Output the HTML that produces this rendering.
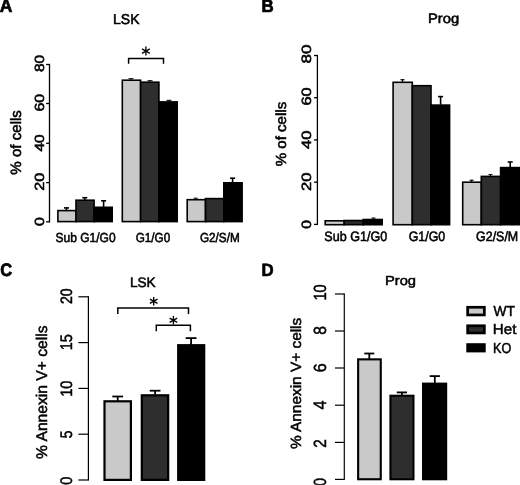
<!DOCTYPE html>
<html><head><meta charset="utf-8"><title>Figure</title>
<style>
html,body{margin:0;padding:0;background:#fff;}
body{width:520px;height:485px;overflow:hidden;}
svg{display:block;}
svg text{font-family:"Liberation Sans",sans-serif;fill:#000;text-rendering:geometricPrecision;}
</style></head><body>
<svg width="520" height="485" viewBox="0 0 520 485">
<defs><filter id="soft" x="-6" y="-6" width="532" height="497" filterUnits="userSpaceOnUse"><feGaussianBlur stdDeviation="0.4"/></filter></defs>
<rect x="0" y="0" width="520" height="485" fill="#fff"/>
<g filter="url(#soft)">
<rect x="-5" y="-5" width="530" height="495" fill="#fff"/>
<text transform="translate(-0.19,12.29) scale(0.9424,1)" font-size="18.53" font-weight="bold" fill="#000" stroke="#000" stroke-width="0.7">A</text>
<text transform="translate(113.02,24.14) scale(0.9812,1)" font-size="14.28" fill="#000" stroke="#000" stroke-width="0.55">LSK</text>
<line x1="49.50" y1="63.85" x2="49.50" y2="222.45" stroke="#000" stroke-width="1.3" stroke-linecap="butt"/>
<line x1="46.10" y1="221.80" x2="49.50" y2="221.80" stroke="#000" stroke-width="1.3" stroke-linecap="butt"/>
<line x1="46.10" y1="182.60" x2="49.50" y2="182.60" stroke="#000" stroke-width="1.3" stroke-linecap="butt"/>
<line x1="46.10" y1="143.30" x2="49.50" y2="143.30" stroke="#000" stroke-width="1.3" stroke-linecap="butt"/>
<line x1="46.10" y1="103.50" x2="49.50" y2="103.50" stroke="#000" stroke-width="1.3" stroke-linecap="butt"/>
<line x1="46.10" y1="64.50" x2="49.50" y2="64.50" stroke="#000" stroke-width="1.3" stroke-linecap="butt"/>
<text transform="translate(43.63,72.09) rotate(-90) scale(1.1737,1)" font-size="13.28" stroke="#000" stroke-width="0.55">80</text>
<text transform="translate(43.63,111.52) rotate(-90) scale(1.1971,1)" font-size="13.28" stroke="#000" stroke-width="0.55">60</text>
<text transform="translate(43.63,151.58) rotate(-90) scale(1.1729,1)" font-size="13.28" stroke="#000" stroke-width="0.55">40</text>
<text transform="translate(43.63,190.83) rotate(-90) scale(1.2192,1)" font-size="13.28" stroke="#000" stroke-width="0.55">20</text>
<text transform="translate(43.63,225.96) rotate(-90) scale(1.1910,1)" font-size="13.28" stroke="#000" stroke-width="0.55">0</text>
<text transform="translate(21.14,174.65) rotate(-90) scale(1.0077,1)" font-size="14.98" stroke="#000" stroke-width="0.55">% of cells</text>
<line x1="66.50" y1="207.90" x2="66.50" y2="210.30" stroke="#000" stroke-width="1.6" stroke-linecap="butt"/>
<line x1="64.00" y1="207.90" x2="69.00" y2="207.90" stroke="#000" stroke-width="1.6" stroke-linecap="butt"/>
<line x1="84.80" y1="197.70" x2="84.80" y2="199.90" stroke="#000" stroke-width="1.6" stroke-linecap="butt"/>
<line x1="82.30" y1="197.70" x2="87.30" y2="197.70" stroke="#000" stroke-width="1.6" stroke-linecap="butt"/>
<line x1="103.60" y1="200.80" x2="103.60" y2="207.00" stroke="#000" stroke-width="1.6" stroke-linecap="butt"/>
<line x1="101.10" y1="200.80" x2="106.10" y2="200.80" stroke="#000" stroke-width="1.6" stroke-linecap="butt"/>
<rect x="57.90" y="210.60" width="18.10" height="11.00" fill="#c9c9c9" stroke="#000" stroke-width="1.6"/>
<rect x="76.00" y="200.20" width="18.10" height="21.40" fill="#2d2d2d" stroke="#000" stroke-width="1.6"/>
<rect x="94.10" y="207.30" width="18.10" height="14.30" fill="#000" stroke="#000" stroke-width="1.6"/>
<line x1="131.00" y1="78.70" x2="131.00" y2="80.10" stroke="#000" stroke-width="1.0" stroke-linecap="butt"/>
<line x1="128.50" y1="78.70" x2="133.50" y2="78.70" stroke="#000" stroke-width="1.0" stroke-linecap="butt"/>
<line x1="150.00" y1="80.70" x2="150.00" y2="82.00" stroke="#000" stroke-width="1.0" stroke-linecap="butt"/>
<line x1="147.50" y1="80.70" x2="152.50" y2="80.70" stroke="#000" stroke-width="1.0" stroke-linecap="butt"/>
<line x1="169.00" y1="100.30" x2="169.00" y2="101.60" stroke="#000" stroke-width="1.0" stroke-linecap="butt"/>
<line x1="166.50" y1="100.30" x2="171.50" y2="100.30" stroke="#000" stroke-width="1.0" stroke-linecap="butt"/>
<rect x="122.30" y="80.20" width="18.30" height="141.40" fill="#c9c9c9" stroke="#000" stroke-width="1.6"/>
<rect x="140.60" y="82.20" width="18.30" height="139.40" fill="#2d2d2d" stroke="#000" stroke-width="1.6"/>
<rect x="158.90" y="101.90" width="18.30" height="119.70" fill="#000" stroke="#000" stroke-width="1.6"/>
<line x1="195.70" y1="198.20" x2="195.70" y2="199.40" stroke="#000" stroke-width="1.0" stroke-linecap="butt"/>
<line x1="193.70" y1="198.20" x2="197.70" y2="198.20" stroke="#000" stroke-width="1.0" stroke-linecap="butt"/>
<line x1="232.60" y1="178.20" x2="232.60" y2="182.50" stroke="#000" stroke-width="1.6" stroke-linecap="butt"/>
<line x1="230.10" y1="178.20" x2="235.10" y2="178.20" stroke="#000" stroke-width="1.6" stroke-linecap="butt"/>
<rect x="187.20" y="199.70" width="18.30" height="21.90" fill="#c9c9c9" stroke="#000" stroke-width="1.6"/>
<rect x="205.50" y="198.60" width="18.30" height="23.00" fill="#2d2d2d" stroke="#000" stroke-width="1.6"/>
<rect x="223.80" y="182.80" width="18.30" height="38.80" fill="#000" stroke="#000" stroke-width="1.6"/>
<polyline points="128.60,63.80 128.60,58.40 163.50,58.40 163.50,63.80" fill="none" stroke="#000" stroke-width="1.5" stroke-linejoin="miter"/>
<line x1="145.90" y1="46.60" x2="145.90" y2="55.60" stroke="#000" stroke-width="1.35" stroke-linecap="butt"/>
<line x1="142.00" y1="48.85" x2="149.80" y2="53.35" stroke="#000" stroke-width="1.35" stroke-linecap="butt"/>
<line x1="142.00" y1="53.35" x2="149.80" y2="48.85" stroke="#000" stroke-width="1.35" stroke-linecap="butt"/>
<text transform="translate(55.53,242.24) scale(0.9198,1)" font-size="13.05" fill="#000" stroke="#000" stroke-width="0.55">Sub G1/G0</text>
<text transform="translate(135.69,242.24) scale(0.8971,1)" font-size="13.05" fill="#000" stroke="#000" stroke-width="0.55">G1/G0</text>
<text transform="translate(199.89,242.24) scale(0.8999,1)" font-size="13.05" fill="#000" stroke="#000" stroke-width="0.55">G2/S/M</text>
<text transform="translate(261.41,12.19) scale(0.9484,1)" font-size="17.80" font-weight="bold" fill="#000" stroke="#000" stroke-width="0.7">B</text>
<text transform="translate(427.96,22.54) scale(1.0859,1)" font-size="13.61" fill="#000" stroke="#000" stroke-width="0.55">Prog</text>
<line x1="317.40" y1="54.85" x2="317.40" y2="225.05" stroke="#000" stroke-width="1.3" stroke-linecap="butt"/>
<line x1="314.00" y1="224.40" x2="317.40" y2="224.40" stroke="#000" stroke-width="1.3" stroke-linecap="butt"/>
<line x1="314.00" y1="182.20" x2="317.40" y2="182.20" stroke="#000" stroke-width="1.3" stroke-linecap="butt"/>
<line x1="314.00" y1="139.90" x2="317.40" y2="139.90" stroke="#000" stroke-width="1.3" stroke-linecap="butt"/>
<line x1="314.00" y1="97.70" x2="317.40" y2="97.70" stroke="#000" stroke-width="1.3" stroke-linecap="butt"/>
<line x1="314.00" y1="55.50" x2="317.40" y2="55.50" stroke="#000" stroke-width="1.3" stroke-linecap="butt"/>
<text transform="translate(311.44,63.55) rotate(-90) scale(1.2697,1)" font-size="13.42" stroke="#000" stroke-width="0.55">80</text>
<text transform="translate(311.44,105.55) rotate(-90) scale(1.2280,1)" font-size="13.42" stroke="#000" stroke-width="0.55">60</text>
<text transform="translate(311.44,148.90) rotate(-90) scale(1.2313,1)" font-size="13.42" stroke="#000" stroke-width="0.55">40</text>
<text transform="translate(311.44,190.95) rotate(-90) scale(1.2353,1)" font-size="13.42" stroke="#000" stroke-width="0.55">20</text>
<text transform="translate(311.44,228.75) rotate(-90) scale(1.1627,1)" font-size="13.42" stroke="#000" stroke-width="0.55">0</text>
<text transform="translate(286.44,166.25) rotate(-90) scale(1.0347,1)" font-size="14.57" stroke="#000" stroke-width="0.55">% of cells</text>
<line x1="373.50" y1="218.00" x2="373.50" y2="219.40" stroke="#000" stroke-width="1.0" stroke-linecap="butt"/>
<line x1="371.50" y1="218.00" x2="375.50" y2="218.00" stroke="#000" stroke-width="1.0" stroke-linecap="butt"/>
<rect x="325.20" y="220.80" width="19.00" height="3.90" fill="#c9c9c9" stroke="#000" stroke-width="1.6"/>
<rect x="344.20" y="220.50" width="19.00" height="4.20" fill="#2d2d2d" stroke="#000" stroke-width="1.6"/>
<rect x="363.20" y="219.50" width="19.00" height="5.20" fill="#000" stroke="#000" stroke-width="1.6"/>
<line x1="402.50" y1="79.70" x2="402.50" y2="82.00" stroke="#000" stroke-width="1.2" stroke-linecap="butt"/>
<line x1="400.50" y1="79.70" x2="404.50" y2="79.70" stroke="#000" stroke-width="1.2" stroke-linecap="butt"/>
<line x1="440.60" y1="96.60" x2="440.60" y2="104.80" stroke="#000" stroke-width="1.6" stroke-linecap="butt"/>
<line x1="438.10" y1="96.60" x2="443.10" y2="96.60" stroke="#000" stroke-width="1.6" stroke-linecap="butt"/>
<rect x="393.10" y="82.30" width="19.20" height="142.40" fill="#c9c9c9" stroke="#000" stroke-width="1.6"/>
<rect x="412.30" y="85.70" width="18.70" height="139.00" fill="#2d2d2d" stroke="#000" stroke-width="1.6"/>
<rect x="431.00" y="105.10" width="18.60" height="119.60" fill="#000" stroke="#000" stroke-width="1.6"/>
<line x1="471.60" y1="180.20" x2="471.60" y2="181.90" stroke="#000" stroke-width="1.1" stroke-linecap="butt"/>
<line x1="469.60" y1="180.20" x2="473.60" y2="180.20" stroke="#000" stroke-width="1.1" stroke-linecap="butt"/>
<line x1="490.50" y1="174.60" x2="490.50" y2="176.10" stroke="#000" stroke-width="1.0" stroke-linecap="butt"/>
<line x1="488.50" y1="174.60" x2="492.50" y2="174.60" stroke="#000" stroke-width="1.0" stroke-linecap="butt"/>
<line x1="510.20" y1="162.00" x2="510.20" y2="167.30" stroke="#000" stroke-width="1.6" stroke-linecap="butt"/>
<line x1="507.70" y1="162.00" x2="512.70" y2="162.00" stroke="#000" stroke-width="1.6" stroke-linecap="butt"/>
<rect x="462.70" y="182.20" width="18.60" height="42.50" fill="#c9c9c9" stroke="#000" stroke-width="1.6"/>
<rect x="481.30" y="176.40" width="19.30" height="48.30" fill="#2d2d2d" stroke="#000" stroke-width="1.6"/>
<rect x="500.60" y="167.60" width="24.60" height="57.10" fill="#000" stroke="#000" stroke-width="1.6"/>
<text transform="translate(324.31,241.34) scale(0.9243,1)" font-size="13.60" fill="#000" stroke="#000" stroke-width="0.55">Sub G1/G0</text>
<text transform="translate(408.65,241.34) scale(0.9122,1)" font-size="13.60" fill="#000" stroke="#000" stroke-width="0.55">G1/G0</text>
<text transform="translate(476.05,241.34) scale(0.9153,1)" font-size="13.60" fill="#000" stroke="#000" stroke-width="0.55">G2/S/M</text>
<text transform="translate(0.29,276.19) scale(0.9099,1)" font-size="18.12" font-weight="bold" fill="#000" stroke="#000" stroke-width="0.7">C</text>
<text transform="translate(129.92,286.75) scale(0.9917,1)" font-size="13.76" fill="#000" stroke="#000" stroke-width="0.5">LSK</text>
<line x1="88.40" y1="296.20" x2="88.40" y2="480.60" stroke="#000" stroke-width="1.2" stroke-linecap="butt"/>
<line x1="78.40" y1="480.00" x2="88.40" y2="480.00" stroke="#000" stroke-width="1.2" stroke-linecap="butt"/>
<line x1="78.40" y1="434.20" x2="88.40" y2="434.20" stroke="#000" stroke-width="1.2" stroke-linecap="butt"/>
<line x1="78.40" y1="388.40" x2="88.40" y2="388.40" stroke="#000" stroke-width="1.2" stroke-linecap="butt"/>
<line x1="78.40" y1="342.60" x2="88.40" y2="342.60" stroke="#000" stroke-width="1.2" stroke-linecap="butt"/>
<line x1="78.40" y1="296.80" x2="88.40" y2="296.80" stroke="#000" stroke-width="1.2" stroke-linecap="butt"/>
<text transform="translate(72.25,304.05) rotate(-90) scale(0.8542,1)" font-size="16.49" stroke="#000" stroke-width="0.5">20</text>
<text transform="translate(72.25,350.24) rotate(-90) scale(0.8652,1)" font-size="16.73" stroke="#000" stroke-width="0.5">15</text>
<text transform="translate(72.25,396.86) rotate(-90) scale(0.8938,1)" font-size="16.49" stroke="#000" stroke-width="0.5">10</text>
<text transform="translate(72.25,438.31) rotate(-90) scale(0.8307,1)" font-size="16.73" stroke="#000" stroke-width="0.5">5</text>
<text transform="translate(72.35,484.73) rotate(-90) scale(0.8615,1)" font-size="16.77" stroke="#000" stroke-width="0.5">0</text>
<text transform="translate(46.65,458.90) rotate(-90) scale(1.0128,1)" font-size="15.45" stroke="#000" stroke-width="0.5">% Annexin V+ cells</text>
<line x1="117.70" y1="396.50" x2="117.70" y2="400.90" stroke="#000" stroke-width="1.8" stroke-linecap="butt"/>
<line x1="112.30" y1="396.50" x2="123.10" y2="396.50" stroke="#000" stroke-width="1.8" stroke-linecap="butt"/>
<line x1="155.10" y1="390.70" x2="155.10" y2="394.80" stroke="#000" stroke-width="1.8" stroke-linecap="butt"/>
<line x1="149.70" y1="390.70" x2="160.50" y2="390.70" stroke="#000" stroke-width="1.8" stroke-linecap="butt"/>
<line x1="191.10" y1="338.10" x2="191.10" y2="344.70" stroke="#000" stroke-width="1.8" stroke-linecap="butt"/>
<line x1="185.70" y1="338.10" x2="196.50" y2="338.10" stroke="#000" stroke-width="1.8" stroke-linecap="butt"/>
<rect x="104.50" y="401.30" width="26.40" height="78.60" fill="#c9c9c9" stroke="#000" stroke-width="2.2"/>
<rect x="141.80" y="395.30" width="26.40" height="84.60" fill="#2d2d2d" stroke="#000" stroke-width="2.2"/>
<rect x="178.20" y="345.20" width="26.00" height="134.70" fill="#000" stroke="#000" stroke-width="2.2"/>
<polyline points="117.80,314.00 117.80,308.00 188.50,308.00 188.50,314.00" fill="none" stroke="#000" stroke-width="1.5" stroke-linejoin="miter"/>
<line x1="153.70" y1="297.00" x2="153.70" y2="305.60" stroke="#000" stroke-width="1.35" stroke-linecap="butt"/>
<line x1="149.90" y1="299.15" x2="157.50" y2="303.45" stroke="#000" stroke-width="1.35" stroke-linecap="butt"/>
<line x1="149.90" y1="303.45" x2="157.50" y2="299.15" stroke="#000" stroke-width="1.35" stroke-linecap="butt"/>
<polyline points="156.30,331.30 156.30,325.20 190.40,325.20 190.40,331.30" fill="none" stroke="#000" stroke-width="1.5" stroke-linejoin="miter"/>
<line x1="173.40" y1="315.90" x2="173.40" y2="324.50" stroke="#000" stroke-width="1.35" stroke-linecap="butt"/>
<line x1="169.60" y1="318.05" x2="177.20" y2="322.35" stroke="#000" stroke-width="1.35" stroke-linecap="butt"/>
<line x1="169.60" y1="322.35" x2="177.20" y2="318.05" stroke="#000" stroke-width="1.35" stroke-linecap="butt"/>
<text transform="translate(261.41,275.99) scale(0.9445,1)" font-size="17.80" font-weight="bold" fill="#000" stroke="#000" stroke-width="0.7">D</text>
<text transform="translate(384.94,285.25) scale(1.1111,1)" font-size="13.24" fill="#000" stroke="#000" stroke-width="0.5">Prog</text>
<line x1="344.30" y1="293.40" x2="344.30" y2="480.00" stroke="#000" stroke-width="1.2" stroke-linecap="butt"/>
<line x1="335.00" y1="479.40" x2="344.30" y2="479.40" stroke="#000" stroke-width="1.2" stroke-linecap="butt"/>
<line x1="335.00" y1="442.40" x2="344.30" y2="442.40" stroke="#000" stroke-width="1.2" stroke-linecap="butt"/>
<line x1="335.00" y1="405.20" x2="344.30" y2="405.20" stroke="#000" stroke-width="1.2" stroke-linecap="butt"/>
<line x1="335.00" y1="368.00" x2="344.30" y2="368.00" stroke="#000" stroke-width="1.2" stroke-linecap="butt"/>
<line x1="335.00" y1="331.00" x2="344.30" y2="331.00" stroke="#000" stroke-width="1.2" stroke-linecap="butt"/>
<line x1="335.00" y1="294.00" x2="344.30" y2="294.00" stroke="#000" stroke-width="1.2" stroke-linecap="butt"/>
<text transform="translate(326.05,300.55) rotate(-90) scale(0.8300,1)" font-size="17.63" stroke="#000" stroke-width="0.5">10</text>
<text transform="translate(326.05,334.82) rotate(-90) scale(0.8928,1)" font-size="17.63" stroke="#000" stroke-width="0.5">8</text>
<text transform="translate(326.05,372.35) rotate(-90) scale(0.9073,1)" font-size="17.63" stroke="#000" stroke-width="0.5">6</text>
<text transform="translate(326.05,409.62) rotate(-90) scale(0.9076,1)" font-size="17.89" stroke="#000" stroke-width="0.5">4</text>
<text transform="translate(326.05,447.81) rotate(-90) scale(0.8600,1)" font-size="17.63" stroke="#000" stroke-width="0.5">2</text>
<text transform="translate(326.05,485.93) rotate(-90) scale(0.8194,1)" font-size="17.63" stroke="#000" stroke-width="0.5">0</text>
<text transform="translate(300.75,449.09) rotate(-90) scale(1.0433,1)" font-size="14.76" stroke="#000" stroke-width="0.5">% Annexin V+ cells</text>
<line x1="369.30" y1="353.50" x2="369.30" y2="358.90" stroke="#000" stroke-width="1.8" stroke-linecap="butt"/>
<line x1="364.30" y1="353.50" x2="374.30" y2="353.50" stroke="#000" stroke-width="1.8" stroke-linecap="butt"/>
<line x1="401.90" y1="392.40" x2="401.90" y2="395.30" stroke="#000" stroke-width="1.8" stroke-linecap="butt"/>
<line x1="396.80" y1="392.40" x2="407.00" y2="392.40" stroke="#000" stroke-width="1.8" stroke-linecap="butt"/>
<line x1="434.80" y1="376.10" x2="434.80" y2="383.20" stroke="#000" stroke-width="1.8" stroke-linecap="butt"/>
<line x1="429.70" y1="376.10" x2="439.90" y2="376.10" stroke="#000" stroke-width="1.8" stroke-linecap="butt"/>
<rect x="358.15" y="359.35" width="22.60" height="119.90" fill="#c9c9c9" stroke="#000" stroke-width="2.1"/>
<rect x="390.45" y="395.75" width="23.00" height="83.50" fill="#2d2d2d" stroke="#000" stroke-width="2.1"/>
<rect x="423.05" y="383.65" width="23.10" height="95.60" fill="#000" stroke="#000" stroke-width="2.1"/>
<rect x="467.65" y="307.25" width="16.70" height="7.70" fill="#c9c9c9" stroke="#000" stroke-width="2.7"/>
<rect x="467.65" y="325.75" width="16.70" height="7.20" fill="#2d2d2d" stroke="#000" stroke-width="2.7"/>
<rect x="467.65" y="344.55" width="16.70" height="6.50" fill="#000" stroke="#000" stroke-width="2.7"/>
<text transform="translate(493.58,315.75) scale(0.9593,1)" font-size="14.40" fill="#000" stroke="#000" stroke-width="0.5">WT</text>
<text transform="translate(492.80,334.35) scale(1.0523,1)" font-size="14.40" fill="#000" stroke="#000" stroke-width="0.5">Het</text>
<text transform="translate(493.01,352.95) scale(0.8766,1)" font-size="14.40" fill="#000" stroke="#000" stroke-width="0.5">KO</text>
</g>
</svg>
</body></html>
